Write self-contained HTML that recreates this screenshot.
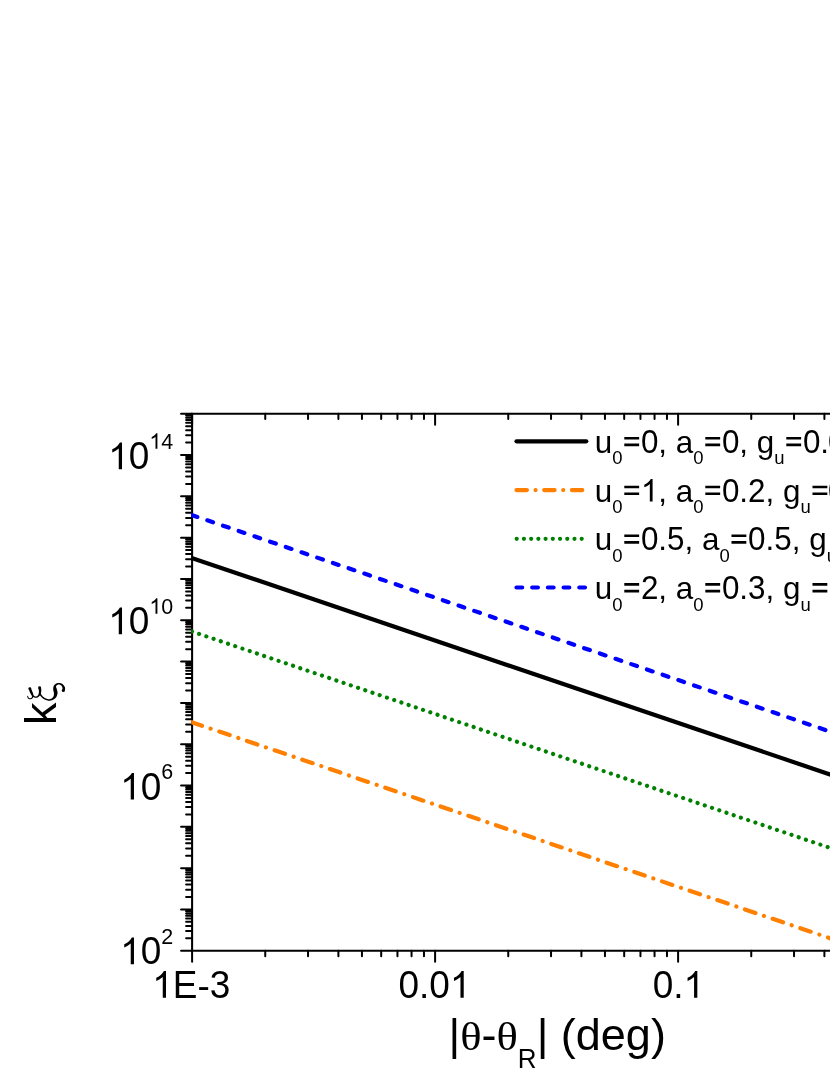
<!DOCTYPE html>
<html><head><meta charset="utf-8"><title>chart</title>
<style>
html,body{margin:0;padding:0;background:#fff;}
body{width:830px;height:1075px;overflow:hidden;}
svg{display:block;will-change:transform;}
text{font-family:"Liberation Sans",sans-serif;fill:#000;font-kerning:none;white-space:pre;}
.s{font-family:"Liberation Serif",serif;}
</style></head><body>
<svg width="830" height="1075" viewBox="0 0 830 1075">
<rect width="830" height="1075" fill="#fff"/>
<g stroke="#000" fill="none" stroke-linecap="butt">
<path stroke-width="2.0" stroke-linecap="round" d="M192.10 950.75h-11.05M192.10 938.31h-6.00M192.10 931.04h-6.00M192.10 925.88h-6.00M192.10 921.87h-6.00M192.10 918.60h-6.00M192.10 915.84h-6.00M192.10 913.44h-6.00M192.10 911.33h-6.00M192.10 909.44h-11.05M192.10 897.00h-6.00M192.10 889.73h-6.00M192.10 884.57h-6.00M192.10 880.56h-6.00M192.10 877.29h-6.00M192.10 874.53h-6.00M192.10 872.13h-6.00M192.10 870.02h-6.00M192.10 868.13h-11.05M192.10 855.69h-6.00M192.10 848.42h-6.00M192.10 843.25h-6.00M192.10 839.25h-6.00M192.10 835.98h-6.00M192.10 833.21h-6.00M192.10 830.82h-6.00M192.10 828.71h-6.00M192.10 826.82h-11.05M192.10 814.38h-6.00M192.10 807.10h-6.00M192.10 801.94h-6.00M192.10 797.94h-6.00M192.10 794.67h-6.00M192.10 791.90h-6.00M192.10 789.51h-6.00M192.10 787.39h-6.00M192.10 785.50h-11.05M192.10 773.07h-6.00M192.10 765.79h-6.00M192.10 760.63h-6.00M192.10 756.63h-6.00M192.10 753.36h-6.00M192.10 750.59h-6.00M192.10 748.20h-6.00M192.10 746.08h-6.00M192.10 744.19h-11.05M192.10 731.76h-6.00M192.10 724.48h-6.00M192.10 719.32h-6.00M192.10 715.32h-6.00M192.10 712.05h-6.00M192.10 709.28h-6.00M192.10 706.88h-6.00M192.10 704.77h-6.00M192.10 702.88h-11.05M192.10 690.44h-6.00M192.10 683.17h-6.00M192.10 678.01h-6.00M192.10 674.01h-6.00M192.10 670.73h-6.00M192.10 667.97h-6.00M192.10 665.57h-6.00M192.10 663.46h-6.00M192.10 661.57h-11.05M192.10 649.13h-6.00M192.10 641.86h-6.00M192.10 636.70h-6.00M192.10 632.69h-6.00M192.10 629.42h-6.00M192.10 626.66h-6.00M192.10 624.26h-6.00M192.10 622.15h-6.00M192.10 620.26h-11.05M192.10 607.82h-6.00M192.10 600.55h-6.00M192.10 595.39h-6.00M192.10 591.38h-6.00M192.10 588.11h-6.00M192.10 585.35h-6.00M192.10 582.95h-6.00M192.10 580.84h-6.00M192.10 578.95h-11.05M192.10 566.51h-6.00M192.10 559.24h-6.00M192.10 554.07h-6.00M192.10 550.07h-6.00M192.10 546.80h-6.00M192.10 544.03h-6.00M192.10 541.64h-6.00M192.10 539.52h-6.00M192.10 537.63h-11.05M192.10 525.20h-6.00M192.10 517.92h-6.00M192.10 512.76h-6.00M192.10 508.76h-6.00M192.10 505.49h-6.00M192.10 502.72h-6.00M192.10 500.33h-6.00M192.10 498.21h-6.00M192.10 496.32h-11.05M192.10 483.89h-6.00M192.10 476.61h-6.00M192.10 471.45h-6.00M192.10 467.45h-6.00M192.10 464.18h-6.00M192.10 461.41h-6.00M192.10 459.02h-6.00M192.10 456.90h-6.00M192.10 455.01h-11.05M192.10 442.58h-6.00M192.10 435.30h-6.00M192.10 430.14h-6.00M192.10 426.14h-6.00M192.10 422.86h-6.00M192.10 420.10h-6.00M192.10 417.70h-6.00M192.10 415.59h-6.00M192.10 413.70h-11.05M192.10 950.75v10.95M192.10 413.70v10.95M265.25 950.75v5.40M265.25 413.70v5.40M308.04 950.75v5.40M308.04 413.70v5.40M338.40 950.75v5.40M338.40 413.70v5.40M361.95 950.75v5.40M361.95 413.70v5.40M381.19 950.75v5.40M381.19 413.70v5.40M397.46 950.75v5.40M397.46 413.70v5.40M411.55 950.75v5.40M411.55 413.70v5.40M423.98 950.75v5.40M423.98 413.70v5.40M435.10 950.75v10.95M435.10 413.70v10.95M508.25 950.75v5.40M508.25 413.70v5.40M551.04 950.75v5.40M551.04 413.70v5.40M581.40 950.75v5.40M581.40 413.70v5.40M604.95 950.75v5.40M604.95 413.70v5.40M624.19 950.75v5.40M624.19 413.70v5.40M640.46 950.75v5.40M640.46 413.70v5.40M654.55 950.75v5.40M654.55 413.70v5.40M666.98 950.75v5.40M666.98 413.70v5.40M678.10 950.75v10.95M678.10 413.70v10.95M751.25 950.75v5.40M751.25 413.70v5.40M794.04 950.75v5.40M794.04 413.70v5.40M824.40 950.75v5.40M824.40 413.70v5.40"/>
<path stroke-width="2.05" d="M192.10 412.68V951.77M191.07 413.70H835M191.07 950.75H835"/>
</g>
<clipPath id="pc"><rect x="191.20" y="413.70" width="830" height="537.05"/></clipPath>
<g fill="none" clip-path="url(#pc)">
<line x1="191.60" y1="557.93" x2="840.00" y2="777.83" stroke="#000" stroke-width="4.2" stroke-linecap="butt"/>
<line x1="191.60" y1="515.03" x2="840.00" y2="734.93" stroke="#0000ff" stroke-width="4.2" stroke-linecap="round" stroke-dasharray="6.02 10.56"/>
<line x1="191.90" y1="631.48" x2="840.00" y2="851.28" stroke="#008000" stroke-width="4.2" stroke-linecap="round" stroke-dasharray="0.01 7.618"/>
<line x1="191.60" y1="722.23" x2="840.00" y2="941.60" stroke="#ff8000" stroke-width="4.2" stroke-linecap="round" stroke-dasharray="10.98 9.11 0.01 9.11"/>
</g>
<g fill="#000">
<path transform="translate(108.23,469.20) scale(0.01807,-0.01807)" d="M763 0H583V1147Q518 1085 412.5 1023T223 930V1104Q374 1175 487 1276T647 1472H763Z"/><text transform="translate(128.81,469.20) scale(1,1.035)" font-size="37">0</text><path transform="translate(149.39,448.70) scale(0.01050,-0.01050)" d="M763 0H583V1147Q518 1085 412.5 1023T223 930V1104Q374 1175 487 1276T647 1472H763Z"/><text transform="translate(161.34,448.70) scale(1,1.035)" font-size="21.5">4</text>
<path transform="translate(108.23,634.20) scale(0.01807,-0.01807)" d="M763 0H583V1147Q518 1085 412.5 1023T223 930V1104Q374 1175 487 1276T647 1472H763Z"/><text transform="translate(128.81,634.20) scale(1,1.035)" font-size="37">0</text><path transform="translate(149.39,613.70) scale(0.01050,-0.01050)" d="M763 0H583V1147Q518 1085 412.5 1023T223 930V1104Q374 1175 487 1276T647 1472H763Z"/><text transform="translate(161.34,613.70) scale(1,1.035)" font-size="21.5">0</text>
<path transform="translate(120.19,799.60) scale(0.01807,-0.01807)" d="M763 0H583V1147Q518 1085 412.5 1023T223 930V1104Q374 1175 487 1276T647 1472H763Z"/><text transform="translate(140.77,799.60) scale(1,1.035)" font-size="37">0</text><text transform="translate(161.34,779.10) scale(1,1.035)" font-size="21.5">6</text>
<path transform="translate(120.19,964.20) scale(0.01807,-0.01807)" d="M763 0H583V1147Q518 1085 412.5 1023T223 930V1104Q374 1175 487 1276T647 1472H763Z"/><text transform="translate(140.77,964.20) scale(1,1.035)" font-size="37">0</text><text transform="translate(161.34,943.70) scale(1,1.035)" font-size="21.5">2</text>
<path transform="translate(152.22,997.70) scale(0.01807,-0.01807)" d="M763 0H583V1147Q518 1085 412.5 1023T223 930V1104Q374 1175 487 1276T647 1472H763Z"/><text transform="translate(172.80,997.70) scale(1,1.035)" font-size="37">E</text><text x="197.48" y="997.70" font-size="37">-</text><text transform="translate(209.80,997.70) scale(1,1.035)" font-size="37">3</text>
<text transform="translate(398.49,997.70) scale(1,1.035)" font-size="37">0</text><text x="419.07" y="997.70" font-size="37">.</text><text transform="translate(429.35,997.70) scale(1,1.035)" font-size="37">0</text><path transform="translate(449.93,997.70) scale(0.01807,-0.01807)" d="M763 0H583V1147Q518 1085 412.5 1023T223 930V1104Q374 1175 487 1276T647 1472H763Z"/>
<text transform="translate(652.68,997.70) scale(1,1.035)" font-size="37">0</text><text x="673.26" y="997.70" font-size="37">.</text><path transform="translate(683.54,997.70) scale(0.01807,-0.01807)" d="M763 0H583V1147Q518 1085 412.5 1023T223 930V1104Q374 1175 487 1276T647 1472H763Z"/>
</g>
<line x1="516.5" y1="441.3" x2="586.3" y2="441.3" stroke="#000" stroke-width="4.2" stroke-linecap="round"/>
<text x="594.80" y="452.80" font-size="31.4">u</text><text transform="translate(612.26,464.30) scale(1,1.035)" font-size="18.5">0</text><path transform="translate(622.55,452.80) scale(0.01533,-0.01533)" d="M114 429H1082V601H114ZM114 864H1082V1036H114Z"/><text transform="translate(640.89,452.80) scale(1,1.035)" font-size="31.4">0</text><text x="658.35" y="452.80" font-size="31.4">, a</text><text transform="translate(693.26,464.30) scale(1,1.035)" font-size="18.5">0</text><path transform="translate(703.55,452.80) scale(0.01533,-0.01533)" d="M114 429H1082V601H114ZM114 864H1082V1036H114Z"/><text transform="translate(721.89,452.80) scale(1,1.035)" font-size="31.4">0</text><text x="739.35" y="452.80" font-size="31.4">, g</text><text x="774.26" y="464.30" font-size="18.5">u</text><path transform="translate(784.55,452.80) scale(0.01533,-0.01533)" d="M114 429H1082V601H114ZM114 864H1082V1036H114Z"/><text transform="translate(802.89,452.80) scale(1,1.035)" font-size="31.4">0</text><text x="820.35" y="452.80" font-size="31.4">.</text>
<text transform="translate(828.00,452.80) scale(1,1.035)" font-size="31.4">0</text>
<line x1="516.5" y1="490.1" x2="583" y2="490.1" stroke="#ff8000" stroke-width="4.2" stroke-linecap="round" stroke-dasharray="10.4 8.645 0.01 8.645"/>
<text x="594.80" y="501.60" font-size="31.4">u</text><text transform="translate(612.26,513.10) scale(1,1.035)" font-size="18.5">0</text><path transform="translate(622.55,501.60) scale(0.01533,-0.01533)" d="M114 429H1082V601H114ZM114 864H1082V1036H114Z"/><path transform="translate(640.89,501.60) scale(0.01533,-0.01533)" d="M763 0H583V1147Q518 1085 412.5 1023T223 930V1104Q374 1175 487 1276T647 1472H763Z"/><text x="658.35" y="501.60" font-size="31.4">, a</text><text transform="translate(693.26,513.10) scale(1,1.035)" font-size="18.5">0</text><path transform="translate(703.55,501.60) scale(0.01533,-0.01533)" d="M114 429H1082V601H114ZM114 864H1082V1036H114Z"/><text transform="translate(721.89,501.60) scale(1,1.035)" font-size="31.4">0</text><text x="739.35" y="501.60" font-size="31.4">.</text><text transform="translate(748.08,501.60) scale(1,1.035)" font-size="31.4">2</text><text x="765.54" y="501.60" font-size="31.4">, g</text><text x="800.45" y="513.10" font-size="18.5">u</text><path transform="translate(810.74,501.60) scale(0.01533,-0.01533)" d="M114 429H1082V601H114ZM114 864H1082V1036H114Z"/>
<text transform="translate(828.00,501.60) scale(1,1.035)" font-size="31.4">0</text>
<line x1="516.7" y1="538.8" x2="582" y2="538.8" stroke="#008000" stroke-width="4.2" stroke-linecap="round" stroke-dasharray="0.01 7.212"/>
<text x="594.80" y="550.30" font-size="31.4">u</text><text transform="translate(612.26,561.80) scale(1,1.035)" font-size="18.5">0</text><path transform="translate(622.55,550.30) scale(0.01533,-0.01533)" d="M114 429H1082V601H114ZM114 864H1082V1036H114Z"/><text transform="translate(640.89,550.30) scale(1,1.035)" font-size="31.4">0</text><text x="658.35" y="550.30" font-size="31.4">.</text><text transform="translate(667.08,550.30) scale(1,1.035)" font-size="31.4">5</text><text x="684.54" y="550.30" font-size="31.4">, a</text><text transform="translate(719.45,561.80) scale(1,1.035)" font-size="18.5">0</text><path transform="translate(729.74,550.30) scale(0.01533,-0.01533)" d="M114 429H1082V601H114ZM114 864H1082V1036H114Z"/><text transform="translate(748.08,550.30) scale(1,1.035)" font-size="31.4">0</text><text x="765.54" y="550.30" font-size="31.4">.</text><text transform="translate(774.26,550.30) scale(1,1.035)" font-size="31.4">5</text><text x="791.73" y="550.30" font-size="31.4">, g</text><text x="826.64" y="561.80" font-size="18.5">u</text>
<line x1="516.5" y1="587.5" x2="586" y2="587.5" stroke="#0000ff" stroke-width="4.2" stroke-linecap="round" stroke-dasharray="5.7 10"/>
<text x="594.80" y="599.00" font-size="31.4">u</text><text transform="translate(612.26,610.50) scale(1,1.035)" font-size="18.5">0</text><path transform="translate(622.55,599.00) scale(0.01533,-0.01533)" d="M114 429H1082V601H114ZM114 864H1082V1036H114Z"/><text transform="translate(640.89,599.00) scale(1,1.035)" font-size="31.4">2</text><text x="658.35" y="599.00" font-size="31.4">, a</text><text transform="translate(693.26,610.50) scale(1,1.035)" font-size="18.5">0</text><path transform="translate(703.55,599.00) scale(0.01533,-0.01533)" d="M114 429H1082V601H114ZM114 864H1082V1036H114Z"/><text transform="translate(721.89,599.00) scale(1,1.035)" font-size="31.4">0</text><text x="739.35" y="599.00" font-size="31.4">.</text><text transform="translate(748.08,599.00) scale(1,1.035)" font-size="31.4">3</text><text x="765.54" y="599.00" font-size="31.4">, g</text><text x="800.45" y="610.50" font-size="18.5">u</text><path transform="translate(810.74,599.00) scale(0.01533,-0.01533)" d="M114 429H1082V601H114ZM114 864H1082V1036H114Z"/>
<text x="448.50" y="1050.00" font-size="45">|</text><text class="s" transform="translate(460.19,1050.00) scale(1.1,1)" font-size="40.5">θ</text><text x="481.53" y="1050.00" font-size="45">-</text><text class="s" transform="translate(496.51,1050.00) scale(1.1,1)" font-size="40.5">θ</text><text transform="translate(517.85,1067.50) scale(1,1.035)" font-size="26">R</text><text x="536.63" y="1050.00" font-size="45">| (deg)</text>
<path d="M28.75 688.60L28.79 688.73L28.83 688.90L28.88 689.10L28.94 689.32L29.00 689.56L29.07 689.82L29.14 690.09L29.22 690.36L29.30 690.64L29.38 690.91L29.47 691.17L29.56 691.42L29.66 691.67L29.76 691.92L29.87 692.17L29.98 692.41L30.10 692.65L30.21 692.89L30.33 693.13L30.45 693.36L30.56 693.58L30.67 693.80L30.77 694.00L30.88 694.21L30.99 694.42L31.11 694.64L31.23 694.84L31.34 695.02L31.45 695.19L31.56 695.35L31.65 695.50L31.73 695.63L31.80 695.76L31.86 695.87L31.91 695.98L31.94 696.08L31.96 696.19L31.97 696.32L31.97 696.46L31.96 696.60L31.94 696.74L31.91 696.88L31.87 697.02L31.82 697.16L31.77 697.29L31.70 697.41L31.63 697.52L31.56 697.62L31.47 697.71L31.37 697.80L31.24 697.89L31.10 697.98L30.96 698.06L30.80 698.13L30.65 698.19L30.49 698.25L30.34 698.29L30.20 698.31L30.08 698.33L29.97 698.33L29.86 698.32L29.75 698.30L29.63 698.27L29.50 698.22L29.37 698.16L29.25 698.09L29.12 698.02L29.00 697.93L28.89 697.84L28.78 697.75L28.69 697.66L28.61 697.57L28.55 697.49L28.49 697.37L28.42 697.23L28.36 697.06L28.30 696.88L28.25 696.69L28.20 696.51L28.16 696.32L28.12 696.15L28.08 695.99L28.04 695.84L28.01 695.73L27.19 695.93L27.21 696.03L27.23 696.15L27.25 696.30L27.28 696.48L27.30 696.68L27.34 696.90L27.38 697.12L27.43 697.34L27.49 697.56L27.57 697.78L27.67 697.99L27.79 698.19L27.93 698.35L28.07 698.50L28.22 698.64L28.39 698.76L28.56 698.88L28.74 698.99L28.92 699.09L29.12 699.17L29.32 699.24L29.52 699.30L29.72 699.34L29.94 699.36L30.15 699.35L30.36 699.33L30.58 699.28L30.79 699.23L31.00 699.16L31.21 699.07L31.41 698.98L31.61 698.88L31.80 698.77L31.99 698.65L32.16 698.52L32.32 698.38L32.47 698.24L32.61 698.08L32.75 697.92L32.87 697.75L32.99 697.56L33.10 697.37L33.20 697.17L33.28 696.96L33.36 696.75L33.42 696.53L33.47 696.30L33.51 696.07L33.52 695.82L33.51 695.56L33.49 695.32L33.45 695.08L33.41 694.85L33.36 694.62L33.30 694.40L33.24 694.18L33.18 693.97L33.12 693.76L33.06 693.56L33.00 693.36L32.93 693.13L32.85 692.89L32.77 692.64L32.68 692.39L32.59 692.14L32.49 691.89L32.39 691.65L32.29 691.40L32.20 691.16L32.10 690.93L32.00 690.70L31.91 690.48L31.81 690.25L31.70 690.01L31.59 689.77L31.47 689.51L31.35 689.26L31.23 689.02L31.11 688.78L31.00 688.56L30.90 688.35L30.81 688.17L30.73 688.01L30.67 687.88ZM32.29 695.97L32.35 696.03L32.44 696.11L32.54 696.21L32.67 696.33L32.81 696.46L32.96 696.60L33.12 696.75L33.29 696.89L33.47 697.03L33.66 697.17L33.86 697.29L34.07 697.39L34.25 697.48L34.44 697.55L34.63 697.62L34.83 697.68L35.03 697.74L35.24 697.78L35.46 697.82L35.68 697.85L35.90 697.86L36.13 697.86L36.37 697.84L36.60 697.80L36.83 697.75L37.05 697.68L37.27 697.61L37.49 697.51L37.71 697.41L37.93 697.29L38.15 697.16L38.37 697.02L38.58 696.87L38.78 696.70L38.98 696.52L39.17 696.33L39.35 696.12L39.52 695.90L39.69 695.66L39.84 695.42L39.99 695.17L40.14 694.91L40.27 694.65L40.40 694.38L40.52 694.12L40.63 693.85L40.73 693.58L40.82 693.31L40.91 693.04L40.99 692.75L41.06 692.47L41.12 692.18L41.17 691.89L41.22 691.61L41.26 691.32L41.29 691.04L41.31 690.77L41.32 690.50L41.33 690.24L41.34 689.98L41.32 689.70L41.30 689.41L41.25 689.13L41.21 688.86L41.15 688.60L41.09 688.36L41.03 688.13L40.98 687.92L40.92 687.74L40.88 687.58L40.85 687.46L40.82 687.36L38.36 687.91L38.38 688.05L38.42 688.21L38.46 688.38L38.51 688.56L38.56 688.75L38.60 688.95L38.65 689.16L38.69 689.36L38.73 689.56L38.76 689.76L38.79 689.94L38.81 690.12L38.83 690.31L38.85 690.53L38.87 690.76L38.88 690.99L38.89 691.22L38.90 691.46L38.91 691.69L38.91 691.92L38.90 692.15L38.89 692.38L38.87 692.59L38.84 692.81L38.80 693.03L38.75 693.26L38.70 693.49L38.64 693.73L38.57 693.96L38.50 694.19L38.42 694.41L38.33 694.63L38.24 694.83L38.15 695.01L38.06 695.18L37.96 695.33L37.86 695.47L37.74 695.61L37.62 695.74L37.48 695.86L37.34 695.98L37.19 696.09L37.04 696.18L36.89 696.27L36.74 696.35L36.59 696.42L36.45 696.47L36.31 696.51L36.19 696.54L36.07 696.55L35.93 696.55L35.80 696.55L35.65 696.53L35.51 696.50L35.36 696.46L35.21 696.42L35.06 696.37L34.91 696.31L34.76 696.25L34.63 696.20L34.52 696.14L34.40 696.06L34.27 695.97L34.13 695.86L33.99 695.74L33.85 695.62L33.71 695.49L33.59 695.37L33.46 695.25L33.35 695.14L33.24 695.05L33.16 694.97ZM39.02 693.46L39.09 693.57L39.16 693.71L39.26 693.89L39.37 694.10L39.49 694.34L39.63 694.59L39.78 694.86L39.94 695.13L40.12 695.41L40.30 695.69L40.50 695.96L40.71 696.22L40.92 696.47L41.14 696.71L41.37 696.96L41.61 697.21L41.86 697.47L42.12 697.72L42.40 697.98L42.68 698.22L42.98 698.46L43.28 698.69L43.60 698.91L43.93 699.11L44.26 699.29L44.61 699.47L44.97 699.64L45.35 699.81L45.73 699.96L46.12 700.11L46.51 700.24L46.90 700.36L47.29 700.46L47.68 700.55L48.06 700.63L48.44 700.68L48.80 700.71L49.16 700.72L49.52 700.71L49.88 700.69L50.23 700.65L50.57 700.60L50.91 700.53L51.25 700.45L51.58 700.35L51.90 700.25L52.22 700.13L52.54 700.01L52.85 699.87L53.17 699.71L53.49 699.54L53.80 699.36L54.11 699.16L54.41 698.95L54.71 698.72L55.00 698.48L55.28 698.23L55.54 697.96L55.79 697.68L56.03 697.38L56.24 697.06L56.45 696.72L56.63 696.38L56.80 696.03L56.95 695.67L57.08 695.31L57.20 694.94L57.30 694.57L57.39 694.20L57.45 693.83L57.51 693.47L57.54 693.08L57.55 692.66L57.53 692.23L57.48 691.82L57.41 691.44L57.33 691.07L57.25 690.73L57.16 690.41L57.07 690.11L56.99 689.84L56.92 689.60L56.86 689.38L56.80 689.17L56.73 688.90L56.64 688.61L56.55 688.35L56.46 688.10L56.37 687.88L56.28 687.67L56.20 687.48L56.13 687.31L56.08 687.15L56.03 687.02L56.00 686.90L55.98 686.79L55.98 686.67L56.01 686.53L56.05 686.37L56.12 686.21L56.20 686.05L56.29 685.89L56.40 685.72L56.52 685.57L56.65 685.42L56.79 685.28L56.93 685.16L57.07 685.05L57.22 684.95L57.38 684.86L57.55 684.78L57.73 684.71L57.92 684.64L58.11 684.59L58.31 684.55L58.51 684.53L58.71 684.51L58.90 684.51L59.08 684.51L59.26 684.53L59.44 684.56L59.63 684.61L59.83 684.67L60.03 684.74L60.23 684.82L60.43 684.91L60.62 685.02L60.80 685.13L60.98 685.25L61.14 685.38L61.28 685.51L61.41 685.64L61.53 685.78L61.65 685.95L61.76 686.14L61.88 686.34L61.98 686.55L62.08 686.77L62.17 687.00L62.26 687.22L62.33 687.43L62.39 687.64L62.44 687.83L62.47 687.98L62.48 688.08L62.48 688.19L62.48 688.33L62.47 688.49L62.45 688.66L62.43 688.84L62.40 689.03L62.36 689.21L62.33 689.39L62.30 689.57L62.27 689.76L62.25 689.92L64.89 690.18L64.89 690.10L64.90 690.00L64.93 689.85L64.96 689.66L65.00 689.43L65.03 689.18L65.06 688.91L65.08 688.62L65.08 688.30L65.05 687.98L65.00 687.63L64.91 687.30L64.79 687.01L64.67 686.73L64.53 686.46L64.37 686.18L64.20 685.91L64.02 685.64L63.82 685.38L63.62 685.12L63.41 684.88L63.18 684.64L62.95 684.42L62.71 684.21L62.46 684.03L62.20 683.86L61.94 683.71L61.67 683.56L61.40 683.44L61.12 683.32L60.84 683.22L60.56 683.13L60.28 683.06L59.99 683.00L59.72 682.95L59.44 682.91L59.16 682.90L58.88 682.90L58.60 682.91L58.32 682.94L58.04 682.99L57.76 683.04L57.49 683.11L57.22 683.19L56.96 683.27L56.70 683.37L56.45 683.48L56.21 683.60L55.97 683.73L55.73 683.87L55.50 684.03L55.27 684.20L55.04 684.38L54.82 684.57L54.60 684.78L54.39 685.00L54.19 685.24L54.00 685.50L53.83 685.77L53.68 686.07L53.55 686.40L53.45 686.73L53.37 687.06L53.31 687.39L53.27 687.71L53.25 688.02L53.23 688.33L53.22 688.62L53.21 688.91L53.21 689.18L53.22 689.44L53.23 689.73L53.26 690.07L53.32 690.43L53.39 690.77L53.47 691.10L53.55 691.41L53.63 691.70L53.71 691.97L53.78 692.23L53.83 692.46L53.88 692.67L53.91 692.85L53.93 693.04L53.94 693.26L53.94 693.52L53.95 693.78L53.94 694.04L53.93 694.30L53.91 694.56L53.89 694.82L53.86 695.07L53.81 695.31L53.76 695.55L53.71 695.77L53.64 695.97L53.55 696.18L53.45 696.40L53.33 696.62L53.19 696.85L53.04 697.07L52.88 697.29L52.70 697.51L52.52 697.71L52.32 697.91L52.12 698.09L51.92 698.25L51.71 698.40L51.49 698.54L51.25 698.66L51.01 698.77L50.76 698.87L50.51 698.96L50.24 699.03L49.97 699.09L49.70 699.14L49.43 699.17L49.15 699.19L48.86 699.19L48.58 699.18L48.28 699.15L47.97 699.10L47.64 699.03L47.30 698.95L46.95 698.85L46.60 698.73L46.25 698.61L45.91 698.47L45.57 698.32L45.25 698.17L44.94 698.01L44.65 697.86L44.38 697.69L44.11 697.52L43.85 697.32L43.59 697.12L43.34 696.91L43.10 696.69L42.86 696.46L42.63 696.23L42.41 696.00L42.21 695.77L42.01 695.54L41.84 695.32L41.69 695.11L41.56 694.89L41.43 694.65L41.31 694.40L41.20 694.15L41.10 693.90L41.01 693.66L40.93 693.42L40.85 693.20L40.78 693.00L40.70 692.81L40.64 692.66Z" fill="#000"/><circle cx="29.83" cy="688.72" r="1.45" fill="#000"/><circle cx="39.59" cy="687.64" r="1.45" fill="#000"/><circle cx="63.33" cy="690.53" r="1.57" fill="#000"/>
<g transform="translate(56,725) rotate(-90)"><text x="0.00" y="0.00" font-size="45">k</text></g>
</svg>
</body></html>
